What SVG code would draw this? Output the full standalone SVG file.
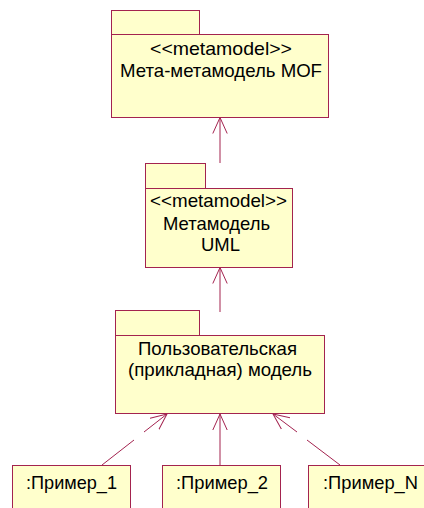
<svg xmlns="http://www.w3.org/2000/svg" width="424" height="508" viewBox="0 0 424 508">
<style>
.pk{fill:#ffffcc;stroke:#a3234f;stroke-width:1}
.t{font-family:"Liberation Sans",Arial,sans-serif;font-size:18.5px;fill:#000;text-anchor:middle}
.c{fill:none;stroke:#a3234f;stroke-width:1}
</style>
<defs>
<marker id="open" viewBox="0 0 18 16" refX="16" refY="8" markerWidth="18" markerHeight="16" markerUnits="userSpaceOnUse" orient="auto">
<path d="M0,0.8 L16,8 L0,15.2" fill="none" stroke="#a3234f" stroke-width="1"/>
</marker>
</defs>
<rect width="424" height="508" fill="#fff"/>
<g id="connectors">
<line class="c" x1="220" y1="163" x2="220" y2="117.5" marker-end="url(#open)"/>
<line class="c" x1="220" y1="312" x2="220" y2="267.5" marker-end="url(#open)"/>
<line class="c" x1="102" y1="465" x2="134" y2="440"/>
<line class="c" x1="144" y1="432" x2="167" y2="414" marker-end="url(#open)"/>
<line class="c" x1="220" y1="465" x2="220" y2="414" marker-end="url(#open)"/>
<line class="c" x1="340" y1="465" x2="307" y2="440"/>
<line class="c" x1="297" y1="432" x2="273" y2="414" marker-end="url(#open)"/>
</g>
<g id="mof">
<rect class="pk" x="111.5" y="10.5" width="88" height="24"/>
<rect class="pk" x="111.5" y="34.5" width="217" height="83"/>
<text class="t" x="221" y="55" textLength="142" lengthAdjust="spacingAndGlyphs">&lt;&lt;metamodel&gt;&gt;</text>
<text class="t" x="221" y="77" textLength="202" lengthAdjust="spacingAndGlyphs">Мета-метамодель MOF</text>
</g>
<g id="uml">
<rect class="pk" x="145.5" y="163.5" width="60" height="25"/>
<rect class="pk" x="145.5" y="188.5" width="147" height="79"/>
<text class="t" x="218.5" y="207" textLength="137" lengthAdjust="spacingAndGlyphs">&lt;&lt;metamodel&gt;&gt;</text>
<text class="t" x="216.5" y="230" textLength="107" lengthAdjust="spacingAndGlyphs">Метамодель</text>
<text class="t" x="220.5" y="251" textLength="39" lengthAdjust="spacingAndGlyphs">UML</text>
</g>
<g id="user">
<rect class="pk" x="115.5" y="310.5" width="84" height="25"/>
<rect class="pk" x="115.5" y="335.5" width="209" height="78"/>
<text class="t" x="217.5" y="355" textLength="159" lengthAdjust="spacingAndGlyphs">Пользовательская</text>
<text class="t" x="220" y="376" textLength="184" lengthAdjust="spacingAndGlyphs">(прикладная) модель</text>
</g>
<g id="ex1">
<rect class="pk" x="12.5" y="465.5" width="118" height="50"/>
<text class="t" x="71.5" y="489" textLength="91" lengthAdjust="spacingAndGlyphs">:Пример_1</text>
</g>
<g id="ex2">
<rect class="pk" x="162.5" y="465.5" width="118" height="50"/>
<text class="t" x="222" y="489" textLength="92" lengthAdjust="spacingAndGlyphs">:Пример_2</text>
</g>
<g id="exN">
<rect class="pk" x="308.5" y="465.5" width="118" height="50"/>
<text class="t" x="370.5" y="489" textLength="95" lengthAdjust="spacingAndGlyphs">:Пример_N</text>
</g>
</svg>
